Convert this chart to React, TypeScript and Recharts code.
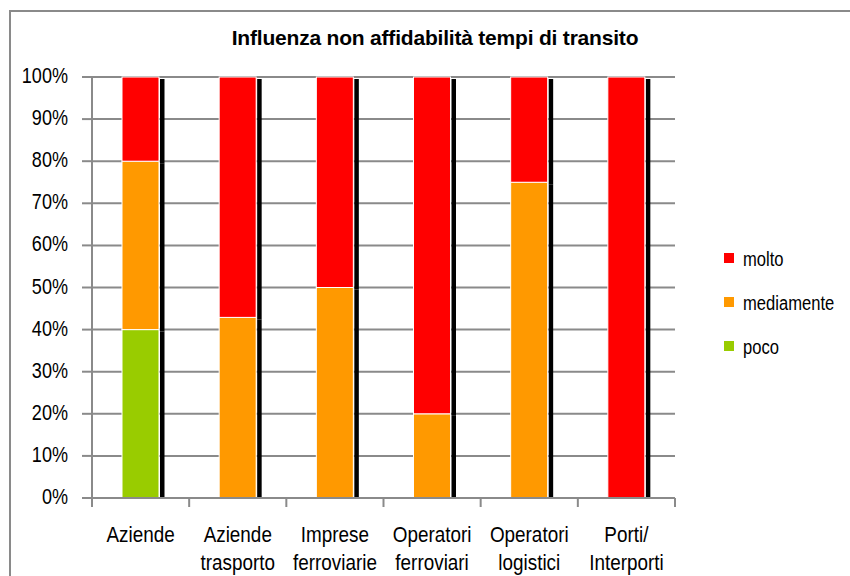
import React from "react";
import { BarChart, Bar, XAxis, YAxis, CartesianGrid } from "recharts";

const categories = [
  "Aziende",
  "Aziende\ntrasporto",
  "Imprese\nferroviarie",
  "Operatori\nferroviari",
  "Operatori\nlogistici",
  "Porti/\nInterporti",
];
const poco = [40, 0, 0, 0, 0, 0];
const mediamente = [40, 42.9, 50, 20, 75, 0];
const molto = [20, 57.1, 50, 80, 25, 100];
const yTicks = [0, 10, 20, 30, 40, 50, 60, 70, 80, 90, 100];

const series = [
  { key: "poco", color: "#99CC00" },
  { key: "mediamente", color: "#FF9900" },
  { key: "molto", color: "#FF0000" },
];

const data = categories.map((name, i) => ({
  name,
  poco: poco[i],
  mediamente: mediamente[i],
  molto: molto[i],
}));

const W = 850;
const H = 576;
const LEFT = 92;
const RIGHT = 175;
const TOP = 77;
const XH = 78;
const PLOT_BOTTOM = H - XH;
const bandW = (W - RIGHT - LEFT) / categories.length;
const FONT = "'Liberation Sans', Arial, sans-serif";
const GRID = "#8a8a8a";

// bar segment with the black drop strip on its right side
const ShadowBar = (props: any) => {
  const { x, y, width, height, fill } = props;
  if (!height || height <= 0) return null;
  const sy = y + 2;
  const sh = Math.min(y + height + 2, PLOT_BOTTOM) - sy;
  return (
    <g>
      <rect x={x + width + 1} y={sy} width={4.5} height={sh} fill="#000" />
      <rect x={x} y={y} width={width} height={height} fill={fill} stroke="#fff" strokeWidth={1} />
    </g>
  );
};

const CatTick = (props: any) => {
  const { x, payload, index } = props;
  const lines = String(payload.value).split("\n");
  const left = x - bandW / 2;
  return (
    <g>
      <line x1={left} x2={left} y1={PLOT_BOTTOM} y2={PLOT_BOTTOM + 9} stroke={GRID} strokeWidth={2} />
      {index === categories.length - 1 && (
        <line x1={left + bandW} x2={left + bandW} y1={PLOT_BOTTOM} y2={PLOT_BOTTOM + 9} stroke={GRID} strokeWidth={2} />
      )}
      {lines.map((t, i) => (
        <text
          key={i}
          transform={`translate(${x},${542 + i * 28}) scale(0.84,1)`}
          textAnchor="middle"
          fontSize={22.5}
          fontFamily={FONT}
          fill="#000"
        >
          {t}
        </text>
      ))}
    </g>
  );
};

const PctTick = (props: any) => {
  const { x, y, payload } = props;
  return (
    <text
      transform={`translate(${x},${y + 6}) scale(0.84,1)`}
      textAnchor="end"
      fontSize={21.5}
      fontFamily={FONT}
      fill="#000"
    >
      {`${payload.value}%`}
    </text>
  );
};

const LegendBox = () => (
  <div style={{ position: "absolute", left: 724, top: 237, width: 126, fontFamily: FONT }}>
    {[...series].reverse().map((s) => (
      <div key={s.key} style={{ display: "flex", alignItems: "center", height: 44 }}>
        <div style={{ width: 10, height: 10, background: s.color, marginRight: 9, marginTop: -3 }} />
        <span
          style={{
            fontSize: 19.5,
            color: "#000",
            display: "inline-block",
            transform: "scaleX(0.85)",
            transformOrigin: "left center",
          }}
        >
          {s.key}
        </span>
      </div>
    ))}
  </div>
);

export default function App() {
  return (
    <div style={{ position: "absolute", left: 0, top: 0, width: W, height: H, background: "#fff", overflow: "hidden" }}>
      <div
        style={{
          position: "absolute",
          left: 9,
          top: 10,
          width: W + 20,
          height: H + 20,
          border: "2px solid #8a8a8a",
          boxSizing: "border-box",
        }}
      />
      <div
        style={{
          position: "absolute",
          left: 0,
          top: 26.5,
          width: 870,
          textAlign: "center",
          fontFamily: FONT,
          fontWeight: "bold",
          fontSize: 21,
          lineHeight: "21px",
          letterSpacing: -0.2,
        }}
      >
        Influenza non affidabilità tempi di transito
      </div>
      <div style={{ position: "absolute", left: 0, top: 0 }}>
        <BarChart
          width={W}
          height={H}
          data={data}
          margin={{ top: TOP, right: RIGHT, bottom: 0, left: 0 }}
          barSize={37}
        >
          <CartesianGrid horizontal vertical={false} stroke={GRID} strokeWidth={2} />
          <XAxis
            dataKey="name"
            height={XH}
            tickLine={false}
            axisLine={{ stroke: GRID, strokeWidth: 2 }}
            tick={<CatTick />}
            interval={0}
          />
          <YAxis
            width={LEFT}
            domain={[0, 100]}
            ticks={yTicks}
            axisLine={{ stroke: GRID, strokeWidth: 2 }}
            tickLine={{ stroke: GRID, strokeWidth: 2 }}
            tickSize={10}
            tickMargin={14}
            tick={<PctTick />}
          />
          {series.map((s) => (
            <Bar
              key={s.key}
              dataKey={s.key}
              stackId="a"
              fill={s.color}
              shape={<ShadowBar />}
              isAnimationActive={false}
            />
          ))}
        </BarChart>
      </div>
      <LegendBox />
    </div>
  );
}
